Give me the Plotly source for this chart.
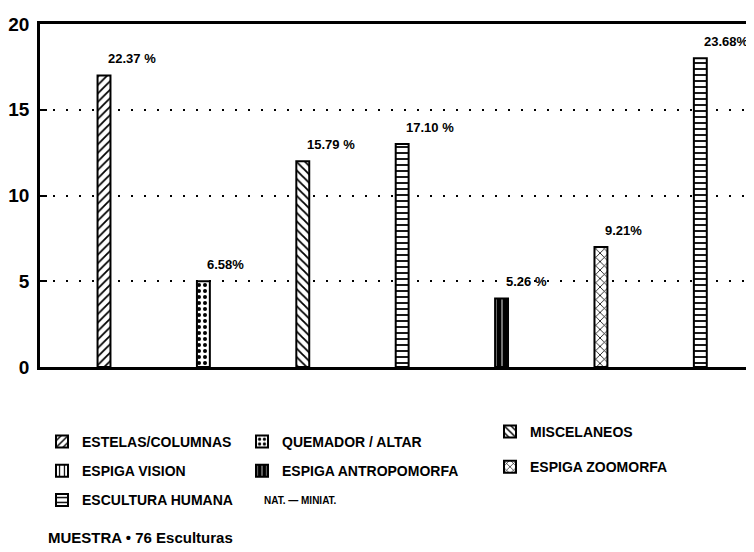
import plotly.graph_objects as go

# ---- data ----
positions = [0, 1, 2, 3, 4, 5, 6]
bar_groups = ["ESTELAS/COLUMNAS", "QUEMADOR / ALTAR", "MISCELANEOS", "ESCULTURA HUMANA",
              "ESPIGA ANTROPOMORFA", "ESPIGA ZOOMORFA", "ESCULTURA HUMANA"]
counts = [17, 5, 12, 13, 4, 7, 18]
pct_labels = ["22.37 %", "6.58%", "15.79 %", "17.10 %", "5.26 %", "9.21%", "23.68%"]
y_ticks = [0, 5, 10, 15, 20]

# legend entries: (name, legend id, pattern shape, solidity)
legend_items = [
    ("ESTELAS/COLUMNAS", "legend", "/", 0.3),
    ("ESPIGA VISION", "legend", "|", 0.25),
    ("ESCULTURA HUMANA", "legend", "-", 0.3),
    ("QUEMADOR / ALTAR", "legend2", ".", 0.35),
    ("ESPIGA ANTROPOMORFA", "legend2", "|", 0.85),
    ("MISCELANEOS", "legend3", "\\", 0.3),
    ("ESPIGA ZOOMORFA", "legend3", "x", 0.25),
]

FONT = "Liberation Sans, Arial, sans-serif"
fig = go.Figure()

for name, leg, shape, sol in legend_items:
    xs = [p for p, g in zip(positions, bar_groups) if g == name]
    ys = [c for c, g in zip(counts, bar_groups) if g == name]
    if not xs:  # legend-only category (no bar in the chart)
        xs, ys = [positions[0]], [0]
    fig.add_trace(go.Bar(
        x=xs, y=ys, name=name, legend=leg, legendgroup=name,
        width=0.13,
        marker=dict(color="white", line=dict(color="black", width=2),
                    pattern=dict(shape=shape, fgcolor="black", bgcolor="white",
                                 size=6, solidity=sol, fillmode="replace")),
        showlegend=True,
    ))

for p, c, t in zip(positions, counts, pct_labels):
    fig.add_annotation(x=p, y=c, text=t, showarrow=False, xanchor="left",
                       yanchor="bottom", xshift=2, yshift=7,
                       font=dict(family=FONT, size=13, color="black", weight=700))


def px_x(px):
    return (px - 40) / 714.0


def px_y(py):
    return (367 - py) / 343.0


fig.add_annotation(x=px_x(262), y=px_y(500), xref="paper", yref="paper",
                   text="NAT. — MINIAT.", showarrow=False, xanchor="left", yanchor="middle",
                   font=dict(family=FONT, size=10, color="black", weight=700))
fig.add_annotation(x=px_x(46), y=px_y(537), xref="paper", yref="paper",
                   text="MUESTRA • 76 Esculturas", showarrow=False, xanchor="left", yanchor="middle",
                   font=dict(family=FONT, size=15, color="black", weight=700))

legfont = dict(family=FONT, size=14, color="black", weight=700)
common_leg = dict(traceorder="grouped", font=legfont,
                  bgcolor="rgba(0,0,0,0)", yanchor="top", xanchor="left",
                  itemclick=False, itemdoubleclick=False)

fig.update_layout(
    width=746, height=544,
    margin=dict(l=32, r=0, t=16, b=185),
    paper_bgcolor="white", plot_bgcolor="white",
    barmode="overlay",
    legend=dict(x=px_x(42), y=px_y(426), tracegroupgap=8, **common_leg),
    legend2=dict(x=px_x(242), y=px_y(426), tracegroupgap=8, **common_leg),
    legend3=dict(x=px_x(490), y=px_y(416), tracegroupgap=14, **common_leg),
    xaxis=dict(range=[-0.644, 6.54], showticklabels=False, ticks="", showgrid=False,
               zeroline=False, showline=True, linecolor="black", linewidth=2.5, mirror=True),
    yaxis=dict(range=[0, 20], tickvals=y_ticks, ticks="inside", ticklen=7, tickwidth=2,
               tickcolor="black", showline=True, linecolor="black", linewidth=2.5,
               showgrid=True, gridcolor="black", gridwidth=2, griddash="2px,11px",
               zeroline=False, ticklabelstandoff=4,
               tickfont=dict(family=FONT, size=19, color="black", weight=700)),
    showlegend=True,
)

fig.write_html("out.html")
